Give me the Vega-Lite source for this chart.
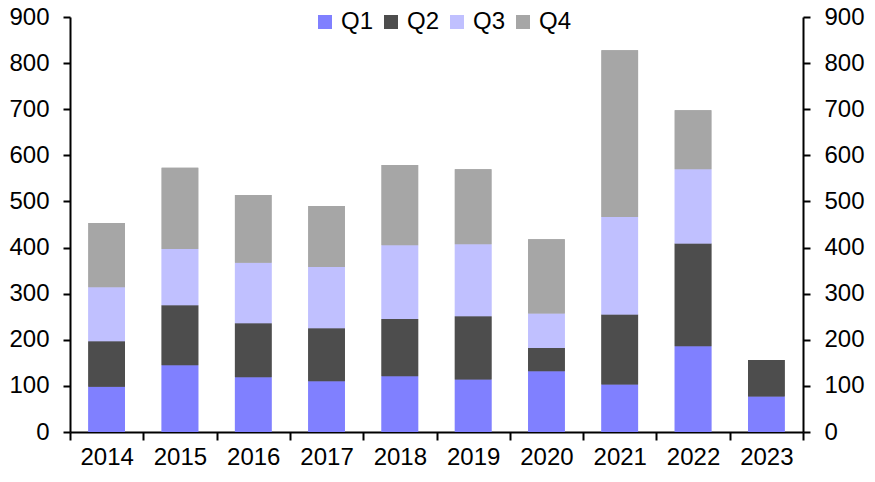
{
  "$schema": "https://vega.github.io/schema/vega-lite/v6.json",
  "width": 733,
  "height": 415,
  "autosize": {"type": "none"},
  "padding": {"left": 70, "top": 17, "right": 72, "bottom": 50},
  "background": "white",
  "config": {
    "view": {"stroke": null},
    "font": "Liberation Sans",
    "axis": {
      "labelFont": "Liberation Sans",
      "labelFontSize": 24,
      "labelColor": "black",
      "domainColor": "black",
      "domainWidth": 2,
      "tickColor": "black",
      "tickWidth": 2,
      "tickSize": 7,
      "grid": false,
      "title": null
    }
  },
  "data": {
    "values": [
      {"year": "2014", "quarter": "Q1", "value": 98},
      {"year": "2014", "quarter": "Q2", "value": 99},
      {"year": "2014", "quarter": "Q3", "value": 117},
      {"year": "2014", "quarter": "Q4", "value": 139},
      {"year": "2015", "quarter": "Q1", "value": 145},
      {"year": "2015", "quarter": "Q2", "value": 130},
      {"year": "2015", "quarter": "Q3", "value": 122},
      {"year": "2015", "quarter": "Q4", "value": 176},
      {"year": "2016", "quarter": "Q1", "value": 119},
      {"year": "2016", "quarter": "Q2", "value": 117},
      {"year": "2016", "quarter": "Q3", "value": 131},
      {"year": "2016", "quarter": "Q4", "value": 147},
      {"year": "2017", "quarter": "Q1", "value": 110},
      {"year": "2017", "quarter": "Q2", "value": 115},
      {"year": "2017", "quarter": "Q3", "value": 133},
      {"year": "2017", "quarter": "Q4", "value": 132},
      {"year": "2018", "quarter": "Q1", "value": 121},
      {"year": "2018", "quarter": "Q2", "value": 124},
      {"year": "2018", "quarter": "Q3", "value": 160},
      {"year": "2018", "quarter": "Q4", "value": 174},
      {"year": "2019", "quarter": "Q1", "value": 114},
      {"year": "2019", "quarter": "Q2", "value": 137},
      {"year": "2019", "quarter": "Q3", "value": 156},
      {"year": "2019", "quarter": "Q4", "value": 163},
      {"year": "2020", "quarter": "Q1", "value": 132},
      {"year": "2020", "quarter": "Q2", "value": 50},
      {"year": "2020", "quarter": "Q3", "value": 75},
      {"year": "2020", "quarter": "Q4", "value": 161},
      {"year": "2021", "quarter": "Q1", "value": 103},
      {"year": "2021", "quarter": "Q2", "value": 152},
      {"year": "2021", "quarter": "Q3", "value": 211},
      {"year": "2021", "quarter": "Q4", "value": 362},
      {"year": "2022", "quarter": "Q1", "value": 186},
      {"year": "2022", "quarter": "Q2", "value": 223},
      {"year": "2022", "quarter": "Q3", "value": 161},
      {"year": "2022", "quarter": "Q4", "value": 128},
      {"year": "2023", "quarter": "Q1", "value": 77},
      {"year": "2023", "quarter": "Q2", "value": 79}
    ]
  },
  "encoding": {
    "x": {
      "field": "year",
      "type": "nominal",
      "scale": {"paddingInner": 0, "paddingOuter": 0},
      "axis": {"labelAngle": 0, "tickBand": "extent", "tickSize": 8, "labelPadding": 5}
    },
    "color": {
      "field": "quarter",
      "type": "nominal",
      "scale": {"domain": ["Q1", "Q2", "Q3", "Q4"], "range": ["#8080FF", "#4D4D4D", "#C0C0FF", "#A6A6A6"]},
      "legend": {
        "title": null,
        "orient": "none",
        "legendX": 243,
        "legendY": -7,
        "direction": "horizontal",
        "columns": 4,
        "padding": 0,
        "symbolType": "square",
        "symbolSize": 196,
        "symbolStrokeWidth": 0,
        "symbolOpacity": 1,
        "labelFont": "Liberation Sans",
        "labelFontSize": 24,
        "labelColor": "black",
        "labelOffset": 4,
        "columnPadding": 5
      }
    },
    "order": {"field": "quarter", "sort": "ascending"}
  },
  "layer": [
    {
      "mark": {"type": "bar", "width": {"band": 0.5}},
      "encoding": {
        "y": {
          "field": "value",
          "type": "quantitative",
          "aggregate": "sum",
          "stack": "zero",
          "scale": {"domain": [0, 900], "nice": false},
          "axis": {"orient": "left", "values": [0, 100, 200, 300, 400, 500, 600, 700, 800, 900], "labelPadding": 14}
        }
      }
    },
    {
      "mark": {"type": "bar", "width": {"band": 0.5}},
      "encoding": {
        "y": {
          "field": "value",
          "type": "quantitative",
          "aggregate": "sum",
          "stack": "zero",
          "scale": {"domain": [0, 900], "nice": false},
          "axis": {"orient": "right", "values": [0, 100, 200, 300, 400, 500, 600, 700, 800, 900], "labelPadding": 14}
        }
      }
    }
  ],
  "resolve": {"axis": {"y": "independent"}}
}
